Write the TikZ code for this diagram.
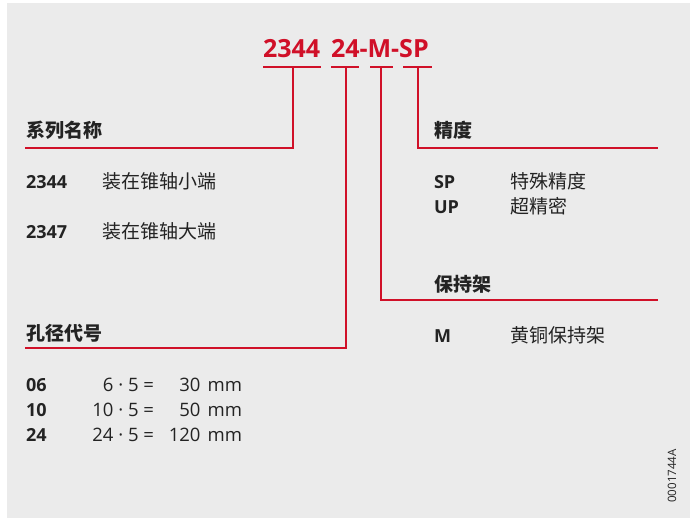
\documentclass[tikz,border=0pt]{standalone}
\usepackage{fontspec}
\setmainfont{Open Sans}
\newfontfamily\cjk{Noto Sans CJK SC}
\definecolor{brandred}{RGB}{208,16,40}
\definecolor{bggray}{RGB}{235,235,235}
\definecolor{txt}{RGB}{35,35,35}
\newcommand{\gp}{\hspace{0.38em}}
\begin{document}
\begin{tikzpicture}[x=1pt,y=-1pt,
  every node/.style={inner sep=0pt,outer sep=0pt,text=txt},
  redline/.style={draw=brandred,line width=2.6pt},
  titletxt/.style={anchor=base west,text=brandred,font=\fontsize{25}{25}\selectfont\bfseries},
  heading/.style={anchor=base west,font=\fontsize{19}{19}\selectfont\cjk\bfseries},
  codetxt/.style={anchor=base west,font=\fontsize{18}{18}\selectfont\bfseries},
  desc/.style={anchor=base west,font=\fontsize{19}{19}\selectfont\cjk},
  formula/.style={anchor=base east,font=\fontsize{18.5}{18.5}\selectfont}]
\useasboundingbox (0,0) rectangle (690,518);
\fill[white] (0,0) rectangle (690,518);
\fill[bggray] (7,3) rectangle (690,518);

% title
\node[titletxt] (t1) at (263,58) {2344};
\node[titletxt] (t2) at (331,58) {24-M-SP};

% bars under title
\coordinate (b1l) at (263,67); \coordinate (b1r) at (321,67); \coordinate (b1m) at (293,67);
\coordinate (b2l) at (331,67); \coordinate (b2r) at (359,67); \coordinate (b2m) at (346,67);
\coordinate (b3l) at (370,67); \coordinate (b3r) at (393,67); \coordinate (b3m) at (381,67);
\coordinate (b4l) at (403,67); \coordinate (b4r) at (432,67); \coordinate (b4m) at (418,67);
\draw[redline] (b1l) -- (b1r);
\draw[redline] (b2l) -- (b2r);
\draw[redline] (b3l) -- (b3r);
\draw[redline] (b4l) -- (b4r);

% heading line ends
\coordinate (h1) at (25,148);
\coordinate (h2) at (25,348);
\coordinate (h3) at (658,300);
\coordinate (h4) at (658,148);

\draw[redline,line join=miter] (b1m) |- (h1);
\draw[redline,line join=miter] (b2m) |- (h2);
\draw[redline,line join=miter] (b3m) |- (h3);
\draw[redline,line join=miter] (b4m) |- (h4);

% left column
\node[heading] (hs) at (26,138) {系列名称};
\node[codetxt] (c2344) at (26,189) {2344};
\node[desc] (d2344) at (102,189) {装在锥轴小端};
\node[codetxt] (c2347) at (26,239) {2347};
\node[desc] (d2347) at (102,239) {装在锥轴大端};

\node[heading] (hb) at (26,340) {孔径代号};
\node[codetxt] (c06) at (26,391) {06};
\node[formula] (f06a) at (154,391) {6 · 5 =};
\node[formula] (f06b) at (242,391) {30\gp mm};
\node[codetxt] (c10) at (26,416) {10};
\node[formula] (f10a) at (154,416) {10 · 5 =};
\node[formula] (f10b) at (242,416) {50\gp mm};
\node[codetxt] (c24) at (26,441) {24};
\node[formula] (f24a) at (154,441) {24 · 5 =};
\node[formula] (f24b) at (242,441) {120\gp mm};

% right column
\node[heading] (hp) at (434,138) {精度};
\node[codetxt] (csp) at (434,189) {SP};
\node[desc] (dsp) at (510,189) {特殊精度};
\node[codetxt] (cup) at (434,214) {UP};
\node[desc] (dup) at (510,214) {超精密};

\node[heading] (hc) at (434,291) {保持架};
\node[codetxt] (cm) at (434,342) {M};
\node[desc] (dm) at (510,342) {黄铜保持架};

% id
\node[rotate=90,font=\fontsize{11.5}{11.5}\selectfont] (id) at (672,476) {0001744A};
\end{tikzpicture}
\end{document}
